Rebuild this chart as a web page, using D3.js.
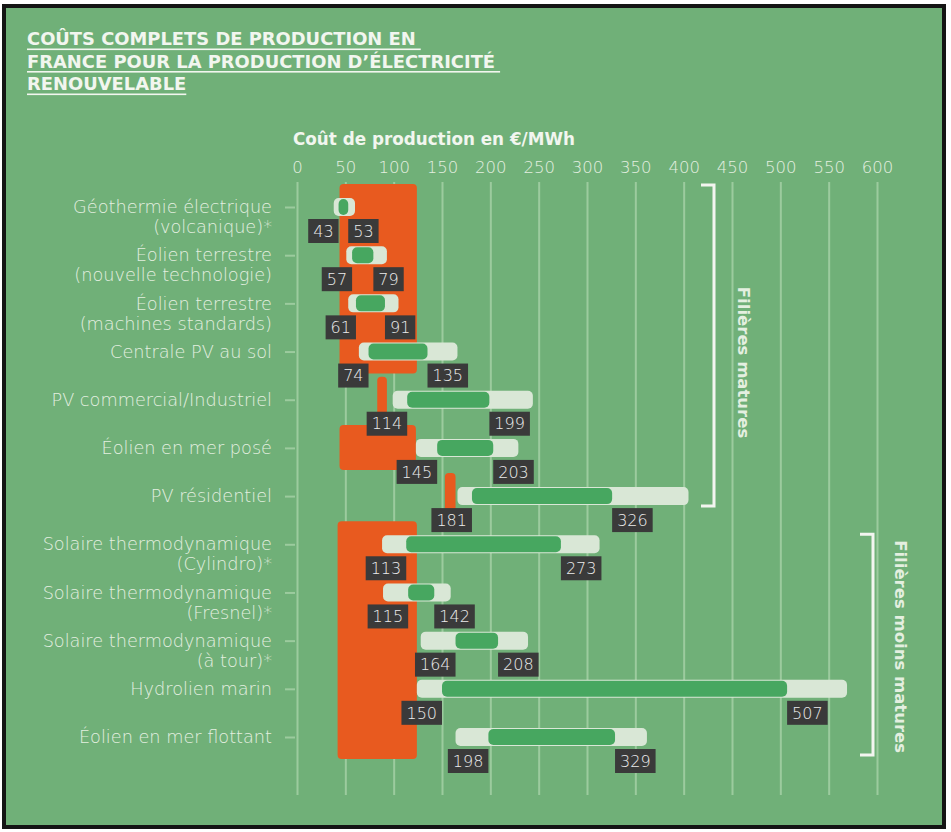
<!DOCTYPE html>
<html>
<head>
<meta charset="utf-8">
<script src="https://cdn.jsdelivr.net/npm/d3@7"></script>
<style>
  html, body { margin: 0; padding: 0; background: #ffffff; }
  svg { display: block; font-family: "DejaVu Sans", "Open Sans", sans-serif; }
</style>
</head>
<body>
<svg id="chart" width="951" height="832"></svg>
<script>
// Filières (one or two label lines each)
const filieres = [
  ["Géothermie électrique", "(volcanique)*"],
  ["Éolien terrestre", "(nouvelle technologie)"],
  ["Éolien terrestre", "(machines standards)"],
  ["Centrale PV au sol"],
  ["PV commercial/Industriel"],
  ["Éolien en mer posé"],
  ["PV résidentiel"],
  ["Solaire thermodynamique", "(Cylindro)*"],
  ["Solaire thermodynamique", "(Fresnel)*"],
  ["Solaire thermodynamique", "(à tour)*"],
  ["Hydrolien marin"],
  ["Éolien en mer flottant"]
];

// Coût complet, fourchette centrale (€/MWh) – labelled values
const coutMin = [43, 57, 61, 74, 114, 145, 181, 113, 115, 164, 150, 198];
const coutMax = [53, 79, 91, 135, 199, 203, 326, 273, 142, 208, 507, 329];

// Coût complet, fourchette large (€/MWh)
const plageMin = [38, 51, 53, 64, 99, 123, 166, 88, 89, 128, 124, 164];
const plageMax = [60, 93, 105, 166, 244, 229, 405, 313, 159, 239, 569, 362];

// Bandes de référence (orange): première ligne, dernière ligne, bornes en €/MWh
const refDebut = [0, 4, 5, 6, 7];
const refFin   = [3, 4, 5, 6, 11];
const refMin   = [44, 83, 44, 153, 42];
const refMax   = [124, 93, 123, 164, 124];

// Graduations de l'axe
const graduations = [0, 50, 100, 150, 200, 250, 300, 350, 400, 450, 500, 550, 600];

// Regroupements
const groupes = ["Filières matures", "Filières moins matures"];
const groupeDebut = [0, 7];
const groupeFin = [6, 11];

const titre = [
  "COÛTS COMPLETS DE PRODUCTION EN",
  "FRANCE POUR LA PRODUCTION D’ÉLECTRICITÉ",
  "RENOUVELABLE"
];
const titreAxe = "Coût de production en €/MWh";

const C = {
  fond: "#70b078",
  cadre: "#141414",
  texte: "#e4efe0",
  titre: "#f2f6ef",
  grille: "#9ccb9e",
  plage: "#d9e7d6",
  cout: "#47a760",
  ref: "#e85a1f",
  etiquette: "#3a3a3a",
  etiquetteTexte: "#ececec",
  accolade: "#f3f5f0"
};
const POLICE = "\"DejaVu Sans\", \"Open Sans\", sans-serif";

const svg = d3.select("#chart");

// Fond et cadre
svg.append("rect")
  .attr("x", 4).attr("y", 6).attr("width", 940).attr("height", 821)
  .attr("fill", C.fond).attr("stroke", C.cadre).attr("stroke-width", 4);

// Titre souligné
const gTitre = svg.append("g");
titre.forEach((ligne, i) => {
  const yb = 45 + i * 22.5;
  const t = gTitre.append("text")
    .attr("x", 27).attr("y", yb)
    .attr("fill", C.titre)
    .attr("font-size", 17.9).attr("font-weight", 700)
    .text(ligne);
  const w = t.node().getComputedTextLength();
  gTitre.append("rect")
    .attr("x", 27).attr("y", yb + 3.5)
    .attr("width", w + (i < 2 ? 5 : 0)).attr("height", 1.6)
    .attr("fill", C.titre);
});

// Échelles
const x = d3.scaleLinear().domain([0, 600]).range([297, 877]);
const y = d3.scalePoint().domain(d3.range(filieres.length)).range([207, 737]);

const grilleHaut = 182, grilleBas = 795;

// Titre de l'axe
svg.append("text")
  .attr("x", 293).attr("y", 145)
  .attr("fill", C.titre).attr("font-size", 16.8).attr("font-weight", 700)
  .text(titreAxe);

// Axe du haut (étiquettes seules)
const axeX = d3.axisTop(x).tickValues(graduations).tickSize(0).tickPadding(0)
  .tickFormat(d3.format("d"));
const gAxe = svg.append("g").attr("transform", "translate(0,173)").call(axeX);
gAxe.select(".domain").remove();
gAxe.selectAll("text")
  .attr("fill", C.texte).attr("font-size", 16.5).attr("font-weight", 200)
  .attr("font-family", POLICE).attr("dy", 0);

// Grille verticale
const axeGrille = d3.axisBottom(x).tickValues(graduations)
  .tickSize(grilleBas - grilleHaut).tickFormat("");
const gGrille = svg.append("g").attr("transform", `translate(0,${grilleHaut})`).call(axeGrille);
gGrille.select(".domain").remove();
gGrille.selectAll("line").attr("stroke", C.grille).attr("stroke-width", 2);

// Axe des filières (petits tirets et libellés)
const axeY = d3.axisLeft(y).tickSize(10).tickPadding(0).tickFormat("");
const gY = svg.append("g").attr("transform", "translate(295,0)").call(axeY);
gY.select(".domain").remove();
gY.selectAll("line").attr("stroke", C.grille).attr("stroke-width", 2);

const gLib = svg.append("g");
filieres.forEach((lignes, i) => {
  lignes.forEach((l, k) => {
    gLib.append("text")
      .attr("x", 272).attr("y", y(i) + k * 20)
      .attr("dy", "0.35em")
      .attr("text-anchor", "end")
      .attr("fill", C.texte).attr("font-size", 17.7).attr("font-weight", 200)
      .text(l);
  });
});

// Bandes de référence orange
svg.append("g").selectAll("rect")
  .data(d3.range(refDebut.length))
  .join("rect")
  .attr("x", j => x(refMin[j]))
  .attr("width", j => x(refMax[j]) - x(refMin[j]))
  .attr("y", j => y(refDebut[j]) - 23)
  .attr("height", j => y(refFin[j]) - y(refDebut[j]) + 45)
  .attr("rx", 4)
  .attr("fill", C.ref);

// Fourchette large
const hPlage = 18, hCout = 16;
svg.append("g").selectAll("rect")
  .data(d3.range(filieres.length))
  .join("rect")
  .attr("x", i => x(plageMin[i]))
  .attr("width", i => x(plageMax[i]) - x(plageMin[i]))
  .attr("y", i => y(i) - hPlage / 2)
  .attr("height", hPlage)
  .attr("rx", 5)
  .attr("fill", C.plage);

// Fourchette centrale
svg.append("g").selectAll("rect")
  .data(d3.range(filieres.length))
  .join("rect")
  .attr("x", i => x(coutMin[i]))
  .attr("width", i => x(coutMax[i]) - x(coutMin[i]))
  .attr("y", i => y(i) - hCout / 2)
  .attr("height", hCout)
  .attr("rx", 5)
  .attr("fill", C.cout);

// Étiquettes de valeurs
const gEt = svg.append("g");
function etiquette(valeur, xBord, cote, yc) {
  const g = gEt.append("g");
  const r = g.append("rect").attr("fill", C.etiquette);
  const t = g.append("text")
    .attr("fill", C.etiquetteTexte).attr("font-size", 16).attr("font-weight", 200)
    .attr("text-anchor", "middle")
    .text(valeur);
  const w = t.node().getComputedTextLength() + 10;
  const x0 = cote === "gauche" ? xBord - w : xBord;
  r.attr("x", x0).attr("y", yc + 12).attr("width", w).attr("height", 24);
  t.attr("x", x0 + w / 2).attr("y", yc + 24).attr("dy", "0.36em");
}
filieres.forEach((_, i) => {
  etiquette(coutMin[i], x(coutMin[i]), "gauche", y(i));
  etiquette(coutMax[i], x(coutMax[i]), "droite", y(i));
});

// Accolades de regroupement
const accX = [714, 873], accHaut = [-22, -10], accBas = [10, 18], texteX = [744, 901];
groupes.forEach((nom, g) => {
  const y0 = y(groupeDebut[g]) + accHaut[g];
  const y1 = y(groupeFin[g]) + accBas[g];
  svg.append("path")
    .attr("d", `M${accX[g] - 13},${y0}H${accX[g]}V${y1}H${accX[g] - 13}`)
    .attr("fill", "none").attr("stroke", C.accolade).attr("stroke-width", 3);
  const ym = (y0 + y1) / 2 + (g === 0 ? 17 : 2);
  svg.append("text")
    .attr("transform", `translate(${texteX[g]},${ym}) rotate(90)`)
    .attr("text-anchor", "middle").attr("dy", "0.35em")
    .attr("fill", C.texte).attr("font-size", 16.5).attr("font-weight", 700)
    .text(nom);
});
</script>
</body>
</html>
